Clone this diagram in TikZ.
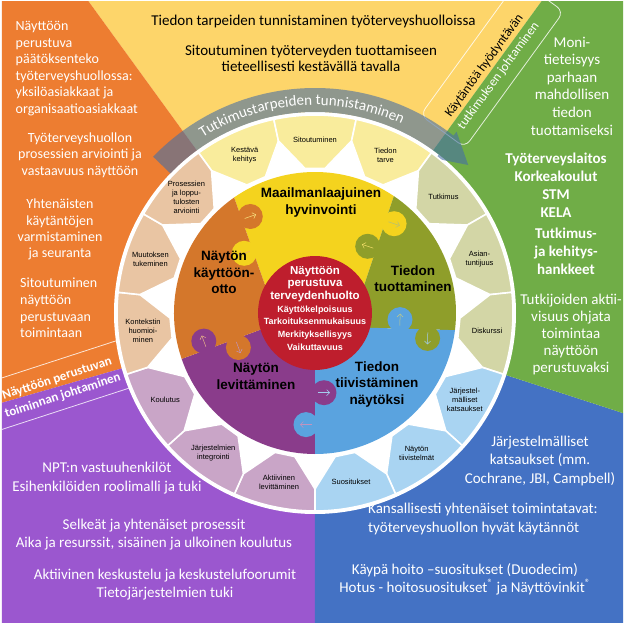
\documentclass[tikz,border=0pt]{standalone}
\usepackage{fontspec}
\setmainfont{Carlito}
\newfontfamily\arialfont{Liberation Sans}
\usepackage{tikz}
\usetikzlibrary{arrows.meta, decorations.text}

% taustasektorit
\definecolor{bgyellow}{HTML}{FDD56A}
\definecolor{bgorange}{HTML}{ED7D31}
\definecolor{bggreen}{HTML}{70AD47}
\definecolor{bgblue}{HTML}{4472C4}
\definecolor{bgpurple}{HTML}{9B57CF}
% kehan solut
\definecolor{cyellow}{HTML}{F9EC9C}
\definecolor{corange}{HTML}{E9C5A3}
\definecolor{cgreen}{HTML}{D3D6A6}
\definecolor{cblue}{HTML}{A9D4F2}
\definecolor{cpurple}{HTML}{C9A5C7}
% palapeli
\definecolor{pyellow}{HTML}{F4D31E}
\definecolor{porange}{HTML}{D4772B}
\definecolor{pgreen}{HTML}{8F9E2A}
\definecolor{pblue}{HTML}{5AA3DF}
\definecolor{ppurple}{HTML}{8A3C8B}
\definecolor{pred}{HTML}{BE1E2D}
\definecolor{bandgrey}{RGB}{70,110,165}

\begin{document}
\begin{tikzpicture}[x=1pt, y=1pt,
    cell/.style={draw=white, line width=1.6pt},
    celltext/.style={font=\arialfont\fontsize{7.5}{9}\selectfont, align=center, inner sep=0pt},
    bgtext/.style={font=\fontsize{15}{17.5}\selectfont, align=center, inner sep=0pt},
    bgwhite/.style={bgtext, text=white},
    orangetext/.style={bgwhite, font=\fontsize{14}{16.6}\selectfont},
    boldwhite/.style={bgwhite, font=\bfseries\fontsize{15}{18}\selectfont},
    piecetext/.style={font=\arialfont\bfseries\fontsize{13.5}{16.5}\selectfont, align=center, inner sep=0pt},
    centretext/.style={font=\arialfont\bfseries\fontsize{11.5}{12.3}\selectfont, align=center, inner sep=0pt, text=white},
    bandline/.style={draw=white, draw opacity=0.8, line width=0.8pt},
    bandtext/.style={font=\fontsize{13}{17.5}\selectfont, align=center, inner sep=0pt},
    knob/.style={radius=12.5},
    knobarrow/.style={-{Straight Barb[length=3pt, width=6pt]}, line width=0.5pt}
]

% Tausta
\useasboundingbox (-315,-311) rectangle (309,313);
\fill[white] (-315,-311) rectangle (309,313);
\begin{scope}
\clip (-313,-309) rectangle (308,311);
\fill[bgyellow] (0,0) -- (54:700) -- (90:700) -- (126:700) -- cycle;
\fill[bgorange] (0,0) -- (126:700) -- (161:700) -- (196:700) -- cycle;
\fill[bgpurple] (0,0) -- (196:700) -- (233:700) -- (270:700) -- cycle;
\fill[bgblue] (0,0) -- (270:700) -- (306:700) -- (342:700) -- cycle;
\fill[bggreen] (0,0) -- (-18:700) -- (18:700) -- (54:700) -- cycle;
% johtamisen kaistat
\begin{scope}[rotate=54]
\draw[bandline, rounded corners=8] (222,-24) -- (390,-24) -- (390,31) -- (222,31) -- cycle;
\end{scope}
\begin{scope}[rotate=198]
\draw[bandline] (190,-35) -- (450,-35) -- (450,14) -- (190,14) -- cycle;
\end{scope}
\end{scope}

\fill[white] (0,0) circle[radius=201];

% Tutkimustarpeiden tunnistaminen
\fill[bandgrey, fill opacity=0.6] (136:201) arc[start angle=136, end angle=52, radius=201]
    -- (52:196) -- (44:213) -- (52:230) -- (52:225)
    arc[start angle=52, end angle=136, radius=225] -- cycle;
\path[decorate, decoration={text along path, text align=center, text color=white,
    text={|\fontsize{15}{15}\selectfont|Tutkimustarpeiden tunnistaminen}}]
    (136:208) arc[start angle=136, end angle=52, radius=208];

% Kehan solut
\foreach \a/\c/\t in {114/cyellow/{Kestävä\\kehitys}, 90/cyellow/Sitoutuminen, 66/cyellow/{Tiedon\\tarve},
    42/cgreen/Tutkimus, 18/cgreen/{Asian-\\tuntijuus}, -6/cgreen/Diskurssi,
    -30/cblue/{Järjestel-\\mälliset\\katsaukset}, -54/cblue/{Näytön\\tiivistelmät}, -78/cblue/Suositukset,
    -102/cpurple/{Aktiivinen\\levittäminen}, -126/cpurple/{Järjestelmien\\integrointi}, -150/cpurple/Koulutus,
    -174/corange/{Kontekstin\\huomioi-\\minen}, 162/corange/{Muutoksen\\tukeminen},
    138/corange/{Prosessien\\ja loppu-\\tulosten\\arviointi}}
{
    \fill[\c, cell] ({\a-12}:198) arc[start angle=\a-12, end angle=\a+12, radius=198]
        -- ({\a+12}:176) -- ({\a+4}:145) -- ({\a-4}:145) -- ({\a-12}:176) -- cycle;
    \node[celltext] (cell\a) at (\a:173) {\t};
}

% Palapelin palat
\fill[pyellow] (151:57) -- (125:141) arc[start angle=125, end angle=56, radius=141] -- (30:57) -- (0,0) -- cycle;
\fill[pgreen] (30:57) -- (56:141) arc[start angle=56, end angle=-7, radius=141] -- (-15:57) -- (0,0) -- cycle;
\fill[pblue] (-15:57) -- (-7:141) arc[start angle=-7, end angle=-90, radius=141] -- (-90:57) -- (0,0) -- cycle;
\fill[ppurple] (-90:57) -- (-90:141) arc[start angle=-90, end angle=-161, radius=141] -- (-163:57) -- (0,0) -- cycle;
\fill[porange] (-163:57) -- (-161:141) arc[start angle=-161, end angle=-235, radius=141] -- (151:57) -- (0,0) -- cycle;

% nystyt
\fill[porange] (-64.7,96.5) circle[knob];
\fill[pyellow] (-70.8,59.7) circle[knob];
\fill[pyellow] (79.1,89.3) circle[knob];
\fill[pgreen] (52.7,66.7) circle[knob];
\fill[pgreen] (112.6,-25.4) circle[knob];
\fill[pblue] (85.0,-6.6) circle[knob];
\fill[ppurple] (9,-79.7) circle[knob];
\fill[pblue] (-9,-111.6) circle[knob];
\fill[ppurple] (-111.2,-28.1) circle[knob];
\fill[porange] (-76.6,-34.5) circle[knob];

% nuolet
\draw[knobarrow, pyellow!55!white] (-70.4,94.5) -- (-59.0,98.5);
\draw[knobarrow, porange!65!white] (-65.1,61.7) -- (-76.5,57.7);
\draw[knobarrow, pgreen!65!white] (73.4,91.2) -- (84.8,87.4);
\draw[knobarrow, pyellow!65!white] (58.4,64.8) -- (47.0,68.6);
\draw[knobarrow, pblue!55!white] (112.8,-19.4) -- (112.4,-31.4);
\draw[knobarrow, pgreen!55!white] (84.8,-12.6) -- (85.2,-0.6);
\draw[knobarrow, pblue!55!white] (3,-79.7) -- (15,-79.7);
\draw[knobarrow, ppurple!55!white] (-3,-111.6) -- (-15,-111.6);
\draw[knobarrow, porange!55!white] (-109.1,-33.7) -- (-113.3,-22.5);
\draw[knobarrow, ppurple!55!white] (-78.7,-28.9) -- (-74.5,-40.1);

% Keskus
\node[circle, fill=pred, minimum size=114pt, inner sep=0pt] (keskus) at (0,0) {};
\node[centretext] (nayttoon) at (0,29) {Näyttöön\\perustuva\\terveydenhuolto};
\node[centretext, font=\arialfont\bfseries\fontsize{9}{12.6}\selectfont] (kriteerit) at (0,-15)
    {Käyttökelpoisuus\\Tarkoituksenmukaisuus\\Merkityksellisyys\\Vaikuttavuus};

% Palojen otsikot
\node[piecetext] (hyvinvointi) at (6,110.5) {Maailmanlaajuinen\\hyvinvointi};
\node[piecetext] (kayttoonotto) at (-91,40.5) {Näytön\\käyttöön-\\otto};
\node[piecetext] (tuottaminen) at (98,34.5) {Tiedon\\tuottaminen};
\node[piecetext] (levittaminen) at (-59,-63.5) {Näytön\\levittäminen};
\node[piecetext] (tiivistaminen) at (62,-71.5) {Tiedon\\tiivistäminen\\näytöksi};

% Kaistojen tekstit
\node[bandtext, rotate=54] (tutkimusjohto) at (176.5,242.0)
    {Käytäntöä hyödyntävän\\\textcolor{white}{tutkimuksen johtaminen}};
\node[bandtext, rotate=18, text=white, font=\bfseries\fontsize{13}{18}\selectfont] (toimintajohto) at (-255.0,-74.4)
    {Näyttöön perustuvan\\toiminnan johtaminen};

% Keltainen
\node[bgtext] (tarpeet) at (-1.5,291) {Tiedon tarpeiden tunnistaminen työterveyshuolloissa};
\node[bgtext, font=\fontsize{15}{16.7}\selectfont] (tuottamiseen) at (-4,254.7) {Sitoutuminen työterveyden tuottamiseen\\tieteellisesti kestävällä tavalla};

% Oranssi
\node[orangetext, align=left, anchor=west] (paatos) at (-299.5,244.5)
    {Näyttöön\\perustuva\\päätöksenteko\\työterveyshuollossa:\\yksilöasiakkaat ja\\organisaatioasiakkaat};
\node[orangetext] (arviointi) at (-235,158) {Työterveyshuollon\\prosessien arviointi ja\\vastaavuus näyttöön};
\node[orangetext, font=\fontsize{14}{16.3}\selectfont] (seuranta) at (-255,83.5) {Yhtenäisten\\käytäntöjen\\varmistaminen\\ja seuranta};
\node[orangetext, align=left, anchor=west] (toimintaan) at (-295,5) {Sitoutuminen\\näyttöön\\perustuvaan\\toimintaan};

% Vihrea
\node[bgwhite, font=\fontsize{15}{17.6}\selectfont] (monitiet) at (257,227) {Moni-\\tieteisyys\\parhaan\\mahdollisen\\tiedon\\tuottamiseksi};
\node[boldwhite] (laitokset) at (241,128) {Työterveyslaitos\\Korkeakoulut\\STM\\KELA};
\node[boldwhite] (hankkeet) at (251,62) {Tutkimus-\\ja kehitys-\\hankkeet};
\node[bgwhite, font=\fontsize{15}{16.8}\selectfont] (tutkijat) at (256,-21.5) {Tutkijoiden aktii-\\visuus ohjata\\toimintaa\\näyttöön\\perustuvaksi};

% Sininen
\node[bgwhite, font=\fontsize{15}{18.5}\selectfont] (katsaukset) at (225,-147.5) {Järjestelmälliset\\katsaukset (mm.\\Cochrane, JBI, Campbell)};
\node[bgwhite, align=left, anchor=west, font=\fontsize{15}{19}\selectfont] (toimintatavat) at (53,-205.5)
    {Kansallisesti yhtenäiset toimintatavat:\\työterveyshuollon hyvät käytännöt};
\node[bgwhite, font=\fontsize{15}{18}\selectfont] (kaypahoito) at (150,-266)
    {Käypä hoito –suositukset (Duodecim)\\Hotus - hoitosuositukset\textsuperscript{®} ja Näyttövinkit\textsuperscript{®}};

% Violetti
\node[bgwhite, font=\fontsize{15}{19}\selectfont] (vastuu) at (-208,-165.5) {NPT:n vastuuhenkilöt\\Esihenkilöiden roolimalli ja tuki};
\node[bgwhite, font=\fontsize{15}{18}\selectfont] (koulutus) at (-161,-222) {Selkeät ja yhtenäiset prosessit\\Aika ja resurssit, sisäinen ja ulkoinen koulutus};
\node[bgwhite, font=\fontsize{15}{18}\selectfont] (foorumit) at (-150,-272) {Aktiivinen keskustelu ja keskustelufoorumit\\Tietojärjestelmien tuki};

\end{tikzpicture}
\end{document}
